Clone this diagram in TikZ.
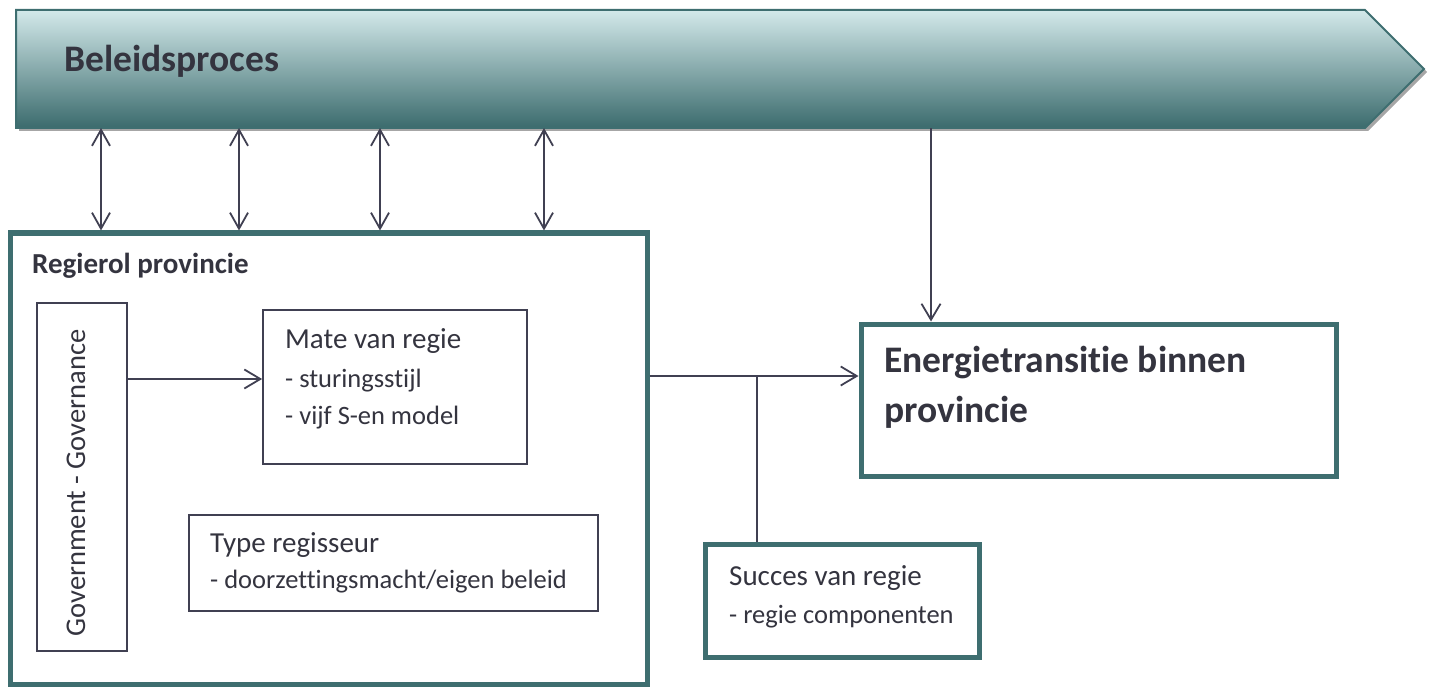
\documentclass[tikz,border=0pt]{standalone}
\usepackage{fontspec}
\setmainfont{Carlito}[RawFeature={-liga;-clig;-calt;-dlig}]
\usetikzlibrary{arrows.meta,shapes.symbols,shadows}

\definecolor{tealline}{HTML}{3E6E70}
\definecolor{ink}{HTML}{34343F}
\definecolor{wire}{HTML}{404052}
\definecolor{bandtop}{HTML}{D3E9EA}
\definecolor{bandmid}{HTML}{79B7BD}
\definecolor{bandbot}{HTML}{3B6B6D}

\newcommand{\fs}[1]{\fontsize{#1}{#1}\selectfont}

\begin{document}
\begin{tikzpicture}[x=1pt,y=-1pt,
  tealbox/.style={draw=tealline, line width=5pt, fill=white, inner sep=0pt},
  thinbox/.style={draw=wire, line width=1.8pt, fill=white, inner sep=0pt},
  lbl/.style={anchor=base west, inner sep=0pt, text=ink},
  headtxt/.style={lbl, font=\fs{29}},
  subtxt/.style={lbl, font=\fs{26.5}},
  boldtxt/.style={lbl, font=\bfseries\fs{37.5}},
  wireline/.style={draw=wire, line width=1.8pt},
  arr/.style={wireline, -{Straight Barb[length=16pt,width=19pt]}},
  dbl/.style={wireline, {Straight Barb[length=16pt,width=18pt]}-{Straight Barb[length=16pt,width=18pt]}}
]
\useasboundingbox (0,0) rectangle (1432,687);

% process band across the top
\node[signal, signal to=east, signal pointer angle=90,
      minimum width=1408pt, minimum height=118pt, inner sep=0pt, outer sep=0pt,
      draw=tealline, line width=2pt,
      top color=bandtop, middle color=bandmid, bottom color=bandbot,
      drop shadow={shadow xshift=3pt, shadow yshift=-3pt, opacity=1, fill=black!35},
      anchor=north west] (banner) at (16,10) {};
\node[boldtxt] (bannertxt) at (64,72) {Beleidsproces};

% role of the province
\node[tealbox, minimum width=637pt, minimum height=451pt] (regie) at (328.5,458.5) {};
\node[lbl, font=\bfseries\fs{29}] (regietxt) at (32,273) {Regierol provincie};

\node[thinbox, minimum width=90pt, minimum height=348pt] (gov) at (82,477) {};
\node[font=\fs{28.5}, text=ink, inner sep=0pt, rotate=90, anchor=base] (govtxt) at (85,483) {Government - Governance};

\node[thinbox, minimum width=264pt, minimum height=154pt] (mate) at (395,387) {};
\node[headtxt] (mate1) at (285,348) {Mate van regie};
\node[subtxt] (mate2) at (285,387) {- sturingsstijl};
\node[subtxt] (mate3) at (285,424) {- vijf S-en model};

\node[thinbox, minimum width=409pt, minimum height=96pt] (type) at (393.5,563) {};
\node[headtxt] (type1) at (210,552) {Type regisseur};
\node[subtxt] (type2) at (210,588) {- doorzettingsmacht/eigen beleid};

% outcome boxes
\node[tealbox, minimum width=475pt, minimum height=152pt] (energie) at (1098.5,400) {};
\node[boldtxt] (energie1) at (884,372) {Energietransitie binnen};
\node[boldtxt] (energie2) at (884,422) {provincie};

\node[tealbox, minimum width=274pt, minimum height=113pt] (succes) at (842,600.5) {};
\node[headtxt] (succes1) at (729,585) {Succes van regie};
\node[subtxt] (succes2) at (729,623) {- regie componenten};

% connectors
\foreach \x in {101,239,380,544}
  \draw[dbl] (banner.south -| \x,0) -- (regie.north -| \x,0);
\draw[arr] (banner.south -| 931,0) -- (energie.north -| 931,0);
\draw[arr] (gov.east |- 0,379) -- (mate.west |- 0,379);
\draw[arr] (regie.east |- 0,376) -- (energie.west |- 0,376);
\coordinate (split) at (757,376);
\draw[wireline] (split) -- (split |- succes.north);
\end{tikzpicture}
\end{document}
